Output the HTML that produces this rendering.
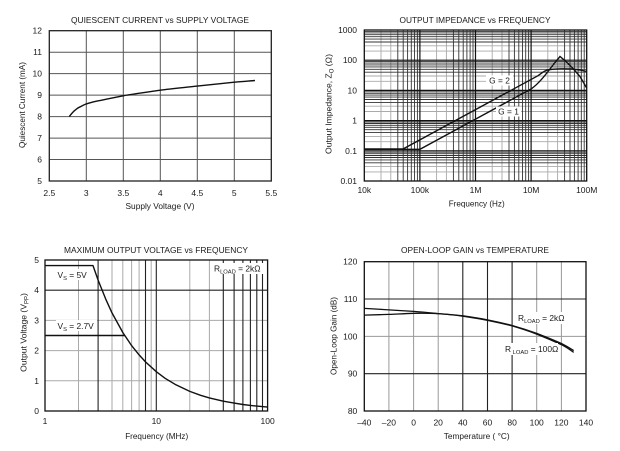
<!DOCTYPE html>
<html><head><meta charset="utf-8"><style>
html,body{margin:0;padding:0;background:#fff;}
svg{display:block;}
text{font-family:"Liberation Sans",Arial,sans-serif;fill:#1a1a1a;}
.t{font-size:8.6px;}
.tk{font-size:8.5px;}
.ax{font-size:8.6px;}
.lb{font-size:8.4px;}
</style></head><body>
<svg width="620" height="451" viewBox="0 0 620 451" xmlns="http://www.w3.org/2000/svg">
<rect width="620" height="451" fill="#fff"/>

<!-- ================= CHART 1 ================= -->
<g stroke="#555" stroke-width="1" fill="none">
<line x1="86.3" y1="30.7" x2="86.3" y2="181"/>
<line x1="123.3" y1="30.7" x2="123.3" y2="181"/>
<line x1="160.3" y1="30.7" x2="160.3" y2="181"/>
<line x1="197.3" y1="30.7" x2="197.3" y2="181"/>
<line x1="234.3" y1="30.7" x2="234.3" y2="181"/>
<line x1="49.3" y1="52.2" x2="271.3" y2="52.2"/>
<line x1="49.3" y1="73.6" x2="271.3" y2="73.6"/>
<line x1="49.3" y1="95.1" x2="271.3" y2="95.1"/>
<line x1="49.3" y1="116.6" x2="271.3" y2="116.6"/>
<line x1="49.3" y1="138.1" x2="271.3" y2="138.1"/>
<line x1="49.3" y1="159.5" x2="271.3" y2="159.5"/>
</g>
<rect x="49.3" y="30.7" width="222" height="150.3" fill="none" stroke="#222" stroke-width="1.3"/>
<path d="M69.3,116.6 C72,113 74,111 75.2,110.1 C77,108.3 79,107.3 80.4,106.7 C83,105.3 85,104.4 86.3,103.9 C92,102 96,101.2 101.1,100.3 C108,98.8 116,97.2 123.3,95.8 C135,93.6 148,92 160.3,90.2 C172,88.6 185,87.5 197.3,86.1 C210,84.8 222,83.4 234.3,82.2 C242,81.5 249,81 255,80.5" fill="none" stroke="#111" stroke-width="1.4"/>
<text class="t" x="160" y="23.2" text-anchor="middle" textLength="178" lengthAdjust="spacingAndGlyphs">QUIESCENT CURRENT vs SUPPLY VOLTAGE</text>
<g class="tk" text-anchor="end">
<text x="42" y="33.7">12</text>
<text x="42" y="55.2">11</text>
<text x="42" y="76.6">10</text>
<text x="42" y="98.1">9</text>
<text x="42" y="119.6">8</text>
<text x="42" y="141.1">7</text>
<text x="42" y="162.5">6</text>
<text x="42" y="184">5</text>
</g>
<g class="tk" text-anchor="middle">
<text x="49.3" y="195.8">2.5</text>
<text x="86.3" y="195.8">3</text>
<text x="123.3" y="195.8">3.5</text>
<text x="160.3" y="195.8">4</text>
<text x="197.3" y="195.8">4.5</text>
<text x="234.3" y="195.8">5</text>
<text x="271.3" y="195.8">5.5</text>
</g>
<text class="ax" x="160" y="209" text-anchor="middle" textLength="69" lengthAdjust="spacingAndGlyphs">Supply Voltage (V)</text>
<text class="ax" transform="translate(24.8,105) rotate(-90)" text-anchor="middle" textLength="86" lengthAdjust="spacingAndGlyphs">Quiescent Current (mA)</text>

<!-- ================= CHART 2 ================= -->
<g stroke="#aaa" stroke-width="0.9">
<line x1="381.0" y1="30" x2="381.0" y2="181"/><line x1="390.8" y1="30" x2="390.8" y2="181"/>
<line x1="436.6" y1="30" x2="436.6" y2="181"/><line x1="446.4" y1="30" x2="446.4" y2="181"/>
<line x1="492.2" y1="30" x2="492.2" y2="181"/><line x1="502.0" y1="30" x2="502.0" y2="181"/>
<line x1="547.8" y1="30" x2="547.8" y2="181"/><line x1="557.6" y1="30" x2="557.6" y2="181"/>
<line x1="364.3" y1="171.9" x2="586.7" y2="171.9"/><line x1="364.3" y1="166.6" x2="586.7" y2="166.6"/>
<line x1="364.3" y1="141.7" x2="586.7" y2="141.7"/><line x1="364.3" y1="136.4" x2="586.7" y2="136.4"/>
<line x1="364.3" y1="111.5" x2="586.7" y2="111.5"/><line x1="364.3" y1="106.2" x2="586.7" y2="106.2"/>
<line x1="364.3" y1="81.3" x2="586.7" y2="81.3"/><line x1="364.3" y1="76.0" x2="586.7" y2="76.0"/>
<line x1="364.3" y1="51.1" x2="586.7" y2="51.1"/><line x1="364.3" y1="45.8" x2="586.7" y2="45.8"/>
</g>
<g stroke="#333" stroke-width="0.9">
<line x1="397.8" y1="30" x2="397.8" y2="181"/><line x1="403.2" y1="30" x2="403.2" y2="181"/><line x1="407.6" y1="30" x2="407.6" y2="181"/><line x1="411.3" y1="30" x2="411.3" y2="181"/><line x1="414.5" y1="30" x2="414.5" y2="181"/><line x1="417.4" y1="30" x2="417.4" y2="181"/>
<line x1="453.4" y1="30" x2="453.4" y2="181"/><line x1="458.8" y1="30" x2="458.8" y2="181"/><line x1="463.2" y1="30" x2="463.2" y2="181"/><line x1="466.9" y1="30" x2="466.9" y2="181"/><line x1="470.1" y1="30" x2="470.1" y2="181"/><line x1="473.0" y1="30" x2="473.0" y2="181"/>
<line x1="509.0" y1="30" x2="509.0" y2="181"/><line x1="514.4" y1="30" x2="514.4" y2="181"/><line x1="518.8" y1="30" x2="518.8" y2="181"/><line x1="522.5" y1="30" x2="522.5" y2="181"/><line x1="525.7" y1="30" x2="525.7" y2="181"/><line x1="528.6" y1="30" x2="528.6" y2="181"/>
<line x1="564.6" y1="30" x2="564.6" y2="181"/><line x1="570.0" y1="30" x2="570.0" y2="181"/><line x1="574.4" y1="30" x2="574.4" y2="181"/><line x1="578.1" y1="30" x2="578.1" y2="181"/><line x1="581.3" y1="30" x2="581.3" y2="181"/><line x1="584.2" y1="30" x2="584.2" y2="181"/>
<line x1="364.3" y1="162.8" x2="586.7" y2="162.8"/><line x1="364.3" y1="159.9" x2="586.7" y2="159.9"/><line x1="364.3" y1="157.5" x2="586.7" y2="157.5"/><line x1="364.3" y1="155.5" x2="586.7" y2="155.5"/><line x1="364.3" y1="153.7" x2="586.7" y2="153.7"/><line x1="364.3" y1="152.2" x2="586.7" y2="152.2"/>
<line x1="364.3" y1="132.6" x2="586.7" y2="132.6"/><line x1="364.3" y1="129.7" x2="586.7" y2="129.7"/><line x1="364.3" y1="127.3" x2="586.7" y2="127.3"/><line x1="364.3" y1="125.3" x2="586.7" y2="125.3"/><line x1="364.3" y1="123.5" x2="586.7" y2="123.5"/><line x1="364.3" y1="122.0" x2="586.7" y2="122.0"/>
<line x1="364.3" y1="102.4" x2="586.7" y2="102.4"/><line x1="364.3" y1="99.5" x2="586.7" y2="99.5"/><line x1="364.3" y1="97.1" x2="586.7" y2="97.1"/><line x1="364.3" y1="95.1" x2="586.7" y2="95.1"/><line x1="364.3" y1="93.3" x2="586.7" y2="93.3"/><line x1="364.3" y1="91.8" x2="586.7" y2="91.8"/>
<line x1="364.3" y1="72.2" x2="586.7" y2="72.2"/><line x1="364.3" y1="69.3" x2="586.7" y2="69.3"/><line x1="364.3" y1="66.9" x2="586.7" y2="66.9"/><line x1="364.3" y1="64.9" x2="586.7" y2="64.9"/><line x1="364.3" y1="63.1" x2="586.7" y2="63.1"/><line x1="364.3" y1="61.6" x2="586.7" y2="61.6"/>
<line x1="364.3" y1="42.0" x2="586.7" y2="42.0"/><line x1="364.3" y1="39.1" x2="586.7" y2="39.1"/><line x1="364.3" y1="36.7" x2="586.7" y2="36.7"/><line x1="364.3" y1="34.7" x2="586.7" y2="34.7"/><line x1="364.3" y1="32.9" x2="586.7" y2="32.9"/><line x1="364.3" y1="31.4" x2="586.7" y2="31.4"/>
</g>
<g stroke="#111" stroke-width="1.2">
<line x1="419.9" y1="30" x2="419.9" y2="181"/><line x1="475.5" y1="30" x2="475.5" y2="181"/><line x1="531.1" y1="30" x2="531.1" y2="181"/>
<line x1="364.3" y1="150.8" x2="586.7" y2="150.8"/><line x1="364.3" y1="120.6" x2="586.7" y2="120.6"/><line x1="364.3" y1="90.4" x2="586.7" y2="90.4"/><line x1="364.3" y1="60.2" x2="586.7" y2="60.2"/>
</g>
<rect x="364.3" y="30" width="222.4" height="151" fill="none" stroke="#111" stroke-width="1.3"/>
<!-- curves -->
<path d="M364.3,149 L403,149 L538,75.7 C542,73 544,71 547,70.2 C552,69 556,68.8 562,68.8 L572,69 L580,70 L586.7,71.5" fill="none" stroke="#111" stroke-width="1.4"/>
<path d="M364.3,149.3 L420,149.3 L531,89 C537,85 543,78 548,71.5 L555,62.5 L560,56.5 L566,61.5 L573,68.5 L580,76.5 L586.7,88" fill="none" stroke="#111" stroke-width="1.4"/>
<rect x="486" y="75.5" width="27" height="10" fill="#fff"/>
<text class="lb" x="499.5" y="83.6" text-anchor="middle">G = 2</text>
<rect x="496" y="106.5" width="25" height="10" fill="#fff"/>
<text class="lb" x="508.5" y="114.6" text-anchor="middle">G = 1</text>
<text class="t" x="475" y="23.2" text-anchor="middle" textLength="151" lengthAdjust="spacingAndGlyphs">OUTPUT IMPEDANCE vs FREQUENCY</text>
<g class="tk" text-anchor="end">
<text x="357" y="33">1000</text>
<text x="357" y="63.2">100</text>
<text x="357" y="93.4">10</text>
<text x="357" y="123.6">1</text>
<text x="357" y="153.8">0.1</text>
<text x="357" y="184">0.01</text>
</g>
<g class="tk" text-anchor="middle">
<text x="364.3" y="193.2">10k</text>
<text x="419.9" y="193.2">100k</text>
<text x="475.5" y="193.2">1M</text>
<text x="531.1" y="193.2">10M</text>
<text x="586.7" y="193.2">100M</text>
</g>
<text class="ax" x="476.7" y="206.4" text-anchor="middle" textLength="56" lengthAdjust="spacingAndGlyphs">Frequency (Hz)</text>
<text class="ax" transform="translate(331.3,104) rotate(-90)" text-anchor="middle">Output Impedance, Z<tspan font-size="6" dy="2">O</tspan><tspan dy="-2"> (Ω)</tspan></text>

<!-- ================= CHART 3 ================= -->
<g stroke="#aaa" stroke-width="1">
<line x1="78.5" y1="260" x2="78.5" y2="411"/><line x1="112.0" y1="260" x2="112.0" y2="411"/><line x1="122.8" y1="260" x2="122.8" y2="411"/><line x1="131.6" y1="260" x2="131.6" y2="411"/><line x1="139.1" y1="260" x2="139.1" y2="411"/><line x1="151.2" y1="260" x2="151.2" y2="411"/>
<line x1="189.8" y1="260" x2="189.8" y2="411"/><line x1="209.4" y1="260" x2="209.4" y2="411"/>
<line x1="45" y1="380.8" x2="267.6" y2="380.8"/><line x1="45" y1="350.6" x2="267.6" y2="350.6"/><line x1="45" y1="320.4" x2="267.6" y2="320.4"/>
</g>
<g stroke="#222" stroke-width="1.1">
<line x1="98.1" y1="260" x2="98.1" y2="411"/><line x1="145.5" y1="260" x2="145.5" y2="411"/><line x1="156.3" y1="260" x2="156.3" y2="411"/>
<line x1="223.3" y1="260" x2="223.3" y2="411"/><line x1="234.1" y1="260" x2="234.1" y2="411"/><line x1="242.9" y1="260" x2="242.9" y2="411"/><line x1="250.4" y1="260" x2="250.4" y2="411"/><line x1="256.8" y1="260" x2="256.8" y2="411"/><line x1="262.5" y1="260" x2="262.5" y2="411"/>
<line x1="45" y1="290.2" x2="267.6" y2="290.2"/>
</g>
<rect x="45" y="260" width="222.6" height="151" fill="none" stroke="#111" stroke-width="1.3"/>
<path d="M45,265.6 L93,265.6 L98.1,280.1 L105.6,298.8 L112,312.9 L122.8,332.5 L131.6,345.6 L139.1,354.9 L145.5,361.9 L156.3,371.7 L165.1,378.3 L175.9,384.8 L189.8,391.4 L200.6,395.3 L209.4,397.9 L223.3,401.2 L234.1,403.1 L242.9,404.5 L250.4,405.4 L256.8,406.1 L267.6,407.1" fill="none" stroke="#111" stroke-width="1.4" stroke-linejoin="round"/>
<path d="M45,335.5 L124.5,335.5" fill="none" stroke="#111" stroke-width="1.4"/>
<rect x="56" y="269" width="34" height="11" fill="#fff"/>
<text class="lb" x="57.5" y="277.8">V<tspan font-size="5.8" dy="2">S</tspan><tspan dy="-2"> = 5V</tspan></text>
<rect x="56" y="320" width="41" height="11" fill="#fff"/>
<text class="lb" x="57.5" y="328.8">V<tspan font-size="5.8" dy="2">S</tspan><tspan dy="-2"> = 2.7V</tspan></text>
<rect x="212" y="263" width="52" height="11" fill="#fff"/>
<text class="lb" x="214" y="271.5">R<tspan font-size="5.8" dy="2">LOAD</tspan><tspan dy="-2"> = 2kΩ</tspan></text>
<text class="t" x="156" y="253.2" text-anchor="middle" textLength="184" lengthAdjust="spacingAndGlyphs">MAXIMUM OUTPUT VOLTAGE vs FREQUENCY</text>
<g class="tk" text-anchor="end">
<text x="39" y="263">5</text>
<text x="39" y="293.2">4</text>
<text x="39" y="323.4">3</text>
<text x="39" y="353.6">2</text>
<text x="39" y="383.8">1</text>
<text x="39" y="414">0</text>
</g>
<g class="tk" text-anchor="middle">
<text x="45" y="424">1</text>
<text x="156.3" y="424">10</text>
<text x="267.6" y="424">100</text>
</g>
<text class="ax" x="156.7" y="438.8" text-anchor="middle" textLength="63" lengthAdjust="spacingAndGlyphs">Frequency (MHz)</text>
<text class="ax" transform="translate(26.3,332.5) rotate(-90)" text-anchor="middle">Output Voltage (V<tspan font-size="6" dy="2">PP</tspan><tspan dy="-2">)</tspan></text>

<!-- ================= CHART 4 ================= -->
<g stroke="#999" stroke-width="1">
<line x1="388.9" y1="261.7" x2="388.9" y2="411"/><line x1="413.6" y1="261.7" x2="413.6" y2="411"/><line x1="438.2" y1="261.7" x2="438.2" y2="411"/>
<line x1="536.7" y1="261.7" x2="536.7" y2="411"/><line x1="561.4" y1="261.7" x2="561.4" y2="411"/>
<line x1="364.3" y1="336.4" x2="586" y2="336.4"/>
</g>
<g stroke="#222" stroke-width="1.1">
<line x1="462.8" y1="261.7" x2="462.8" y2="411"/><line x1="487.5" y1="261.7" x2="487.5" y2="411"/><line x1="512.1" y1="261.7" x2="512.1" y2="411"/>
<line x1="364.3" y1="299" x2="586" y2="299"/><line x1="364.3" y1="373.7" x2="586" y2="373.7"/>
</g>
<rect x="364.3" y="261.7" width="221.7" height="149.3" fill="none" stroke="#111" stroke-width="1.3"/>
<path d="M364.3,308.4 C375,309 380,309.3 388.9,309.9 C398,310.5 405,310.9 413.6,311.4 C422,312 430,312.8 438.2,313.6 C447,314.4 455,314.9 462.8,315.8 C471,317 479,318.2 487.5,319.9 C496,321.6 504,323.4 512.1,325.5 C521,328 529,330.6 536.7,333.4 C545,336.6 553,339.8 561.4,343.5 C566,345.8 570,348.2 573.7,350.6" fill="none" stroke="#111" stroke-width="1.3"/>
<path d="M364.3,315.1 C375,314.8 380,314.7 388.9,314.4 C398,314 405,313.6 413.6,313.3 C422,313.2 430,313.2 438.2,313.6 C447,314.2 455,315 462.8,316.2 C471,317.5 479,318.7 487.5,320.3 C496,322 504,323.8 512.1,325.9 C521,328.5 529,331.1 536.7,334.1 C545,337.4 553,340.8 561.4,344.6 C566,347 570,349.6 573.7,352.4" fill="none" stroke="#111" stroke-width="1.3"/>
<rect x="516" y="312" width="50" height="12" fill="#fff"/>
<text class="lb" x="518" y="320.8">R<tspan font-size="5.8" dy="2">LOAD</tspan><tspan dy="-2"> = 2kΩ</tspan></text>
<rect x="503" y="343" width="55" height="12" fill="#fff"/>
<text class="lb" x="505" y="351.8">R<tspan font-size="5.8" dy="2"> LOAD</tspan><tspan dy="-2"> = 100Ω</tspan></text>
<text class="t" x="475" y="253.2" text-anchor="middle" textLength="148" lengthAdjust="spacingAndGlyphs">OPEN-LOOP GAIN vs TEMPERATURE</text>
<g class="tk" text-anchor="end">
<text x="357.3" y="264.7">120</text>
<text x="357.3" y="302">110</text>
<text x="357.3" y="339.4">100</text>
<text x="357.3" y="376.7">90</text>
<text x="357.3" y="414">80</text>
</g>
<g class="tk" text-anchor="middle">
<text x="364.3" y="425.3">–40</text>
<text x="388.9" y="425.3">–20</text>
<text x="413.6" y="425.3">0</text>
<text x="438.2" y="425.3">20</text>
<text x="462.8" y="425.3">40</text>
<text x="487.5" y="425.3">60</text>
<text x="512.1" y="425.3">80</text>
<text x="536.7" y="425.3">100</text>
<text x="561.4" y="425.3">120</text>
<text x="586" y="425.3">140</text>
</g>
<text class="ax" x="476.7" y="438.8" text-anchor="middle" textLength="66" lengthAdjust="spacingAndGlyphs">Temperature ( °C)</text>
<text class="ax" transform="translate(336.3,336) rotate(-90)" text-anchor="middle" textLength="78" lengthAdjust="spacingAndGlyphs">Open-Loop Gain (dB)</text>
</svg>
</body></html>
